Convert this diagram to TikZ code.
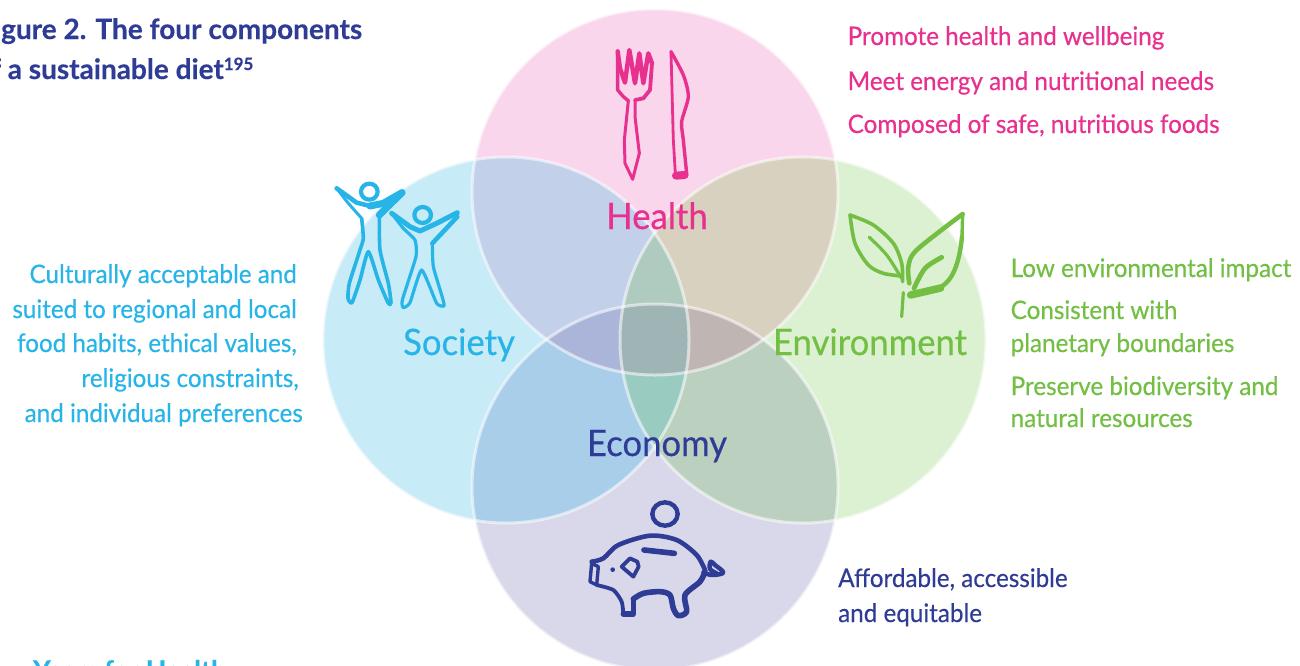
\documentclass[tikz,border=0pt]{standalone}
\usepackage{fontspec}
\setmainfont{Lato}
\newfontfamily\bodyf[FakeBold=.4,FakeStretch=.95]{Lato}
\newfontfamily\titlef[BoldFeatures={FakeBold=.3}]{Lato}
\definecolor{hc}{HTML}{E8308F}
\definecolor{sc}{HTML}{27B5E8}
\definecolor{ec}{HTML}{72BF44}
\definecolor{ac}{HTML}{2F3C96}
\definecolor{hf}{HTML}{FAD6EC}
\definecolor{sf}{HTML}{C8EBF8}
\definecolor{ef}{HTML}{DCF0D2}
\definecolor{af}{HTML}{D8D8EA}
\def\cH{(655,192) circle (183)}
\def\cS{(506,340) circle (183)}
\def\cE{(803,340) circle (183)}
\def\cA{(655,487) circle (183)}
\tikzset{
  rim/.style={draw=white,draw opacity=.55,line width=3pt},
  ln/.style={anchor=base west,inner sep=0pt,font=\fontsize{25.5}{30}\bodyf},
  lr/.style={anchor=base east,inner sep=0pt,font=\fontsize{25.5}{30}\bodyf},
  big/.style={anchor=base,inner sep=0pt,font=\fontsize{36.5}{40}\bodyf},
  ttl/.style={anchor=base west,inner sep=0pt,text=ac,font=\fontsize{28}{30}\titlef\bfseries},
  icon/.style={line cap=round,line join=round,fill=none},
}
\begin{document}
\begin{tikzpicture}[x=1pt,y=-1pt]
\useasboundingbox (0,0) rectangle (1300,665);
\fill[white] (0,0) rectangle (1300,665);
\fill[hf] \cH;
\fill[sf] \cS;
\fill[ef] \cE;
\fill[af] \cA;
% two-circle overlaps
\begin{scope}\clip \cH; \fill[fill={rgb,255:red,195;green,208;blue,234}] \cS; \fill[fill={rgb,255:red,216;green,209;blue,192}] \cE;\end{scope}
\begin{scope}\clip \cA; \fill[fill={rgb,255:red,169;green,206;blue,233}] \cS; \fill[fill={rgb,255:red,188;green,208;blue,191}] \cE;\end{scope}
% three-circle overlaps
\begin{scope}\clip \cS; \clip \cE; \fill[fill={rgb,255:red,175;green,203;blue,191}] (500,150) rectangle (810,340); \fill[fill={rgb,255:red,154;green,203;blue,192}] (500,340) rectangle (810,520);\end{scope}
\begin{scope}\clip \cH; \clip \cA; \fill[fill={rgb,255:red,171;green,181;blue,218}] \cS; \fill[fill={rgb,255:red,191;green,182;blue,179}] \cE;
\begin{scope}\clip \cS; \fill[fill={rgb,255:red,158;green,180;blue,181}] \cE;\end{scope}\end{scope}
\draw[rim] \cH;
\draw[rim] \cS;
\draw[rim] \cE;
\draw[rim] \cA;

% people
\begin{scope}[shift={(320,170)},x=.3333pt,y=-.3333pt,icon,draw=sc,line width=3.2pt]
\draw[line width=4.2pt] (148,65) ellipse (25 and 24);
\draw[line width=3pt] (50,55)--(85,100)--(125,145);
\draw[line width=3.6pt] plot[smooth,tension=.35] coordinates {(125,145)(130,205)(120,240)(88,340)(84,385)(96,398)(120,330)(145,245)(175,330)(205,400)(213,398)(205,340)(180,240)(178,135)};
\draw[line width=7pt] (178,135)--(246,68);
\draw[line width=7pt] (246,68)--(190,100)--(150,108);
\draw[line width=4.6pt] (150,108)--(110,98)--(50,55);
\draw[line width=4.2pt] (308,135) ellipse (25 and 24);
\draw[line width=3.2pt] plot[smooth,tension=.3] coordinates {(215,130)(250,175)(285,210)(288,260)(247,390)(250,413)(270,398)(305,300)(350,400)(372,408)(368,385)(340,290)(337,220)};
\draw[line width=4.6pt] (337,220)--(412,140);
\draw[line width=5pt] (412,128)--(350,160)--(300,183)--(270,170)--(215,130);
\end{scope}

% fork and knife
\begin{scope}[shift={(590,40)},x=.3333pt,y=-.3333pt,icon,draw=hc,line width=3pt]
\draw[line width=4.4pt] (83,34)--(90,85)--(105,128)--(118,30)--(135,130)--(148,40)--(160,130)--(175,40)--(186,70);
\draw[line width=3.4pt] (83,34)--(83,150)--(100,170)--(115,182);
\draw (115,182)--(103,300)--(105,370)--(128,418)--(148,340)--(135,230)--(135,180);
\draw[line width=3.8pt] (135,180)--(160,175)--(180,150)--(186,70);
\draw[line width=3.4pt] plot[smooth,tension=.45] coordinates {(243,35)(280,105)(295,170)(275,245)(280,300)(290,400)};
\draw[line width=2.8pt] (243,35)--(250,300)--(256,400);
\draw[line width=8pt] (258,407)--(284,405);
\end{scope}

% plant
\begin{scope}[shift={(840,200)},x=.3333pt,y=-.3333pt,icon,draw=ec,line width=3.6pt]
\draw plot[smooth,tension=.5] coordinates {(30,45)(100,75)(160,130)(185,190)(188,245)};
\draw plot[smooth,tension=.5] coordinates {(30,45)(45,130)(85,195)(130,220)(185,228)};
\draw[line width=3.2pt] plot[smooth,tension=.5] coordinates {(88,112)(140,165)(185,235)};
\draw[line width=3.2pt] (190,278)--(185,350);
\draw[line width=4.6pt] plot[smooth,tension=.5] coordinates {(368,42)(230,150)(205,200)(208,250)};
\draw[line width=3.4pt] (368,42)--(366,110);
\draw[line width=4.4pt] (366,110) .. controls (360,170) and (345,240) .. (300,262);
\draw[line width=7.5pt] (302,264)--(212,285);
\draw[line width=4.8pt] plot[smooth,tension=.5] coordinates {(305,172)(255,205)(222,265)};
\end{scope}

% piggy bank
\begin{scope}[shift={(580,495)},x=.3333pt,y=-.3333pt,icon,draw=ac,line width=4pt]
\draw[line width=4.4pt] (255,57) ellipse (38 and 35);
\draw[line width=5.6pt] (192,165)--(283,175);
\draw[line width=4.6pt] plot[smooth,tension=.5] coordinates {(35,200)(70,190)(115,150)(210,122)(290,135)(350,180)(375,225)};
\draw[line width=3.8pt] (125,215)--(150,190)--(172,200)--(176,215)--(160,245)--cycle;
\fill[ac,draw=none] (98,224) circle (7);
\draw[line width=3.4pt] (35,205)--(30,260)--(50,270)--(55,215)--cycle;
\draw[line width=3.8pt] plot[smooth,tension=.4] coordinates {(50,270)(100,285)(125,320)(130,357)};
\draw[line width=5.4pt] (130,357)--(160,357)--(160,312);
\draw[line width=5.6pt] plot[smooth,tension=.5] coordinates {(160,312)(190,295)(240,290)(270,300)(280,340)(295,362)(320,350)(315,300)(360,260)(375,230)};
\draw[line width=4.4pt] plot[smooth,tension=.6] coordinates {(370,232)(395,240)(430,233)(405,210)(392,200)(390,222)(410,235)};
\end{scope}

% title
\node[ttl] (t1) at (-22,39) {Figure 2. The four components};
\node[ttl] (t2) at (-25,79) {of a sustainable diet\raisebox{9pt}{\fontsize{17}{17}\selectfont 195}};

% circle names
\node[big,text=hc] (nh) at (657,229) {Health};
\node[big,text=sc] (ns) at (459,355) {Society};
\node[big,text=ec] (ne) at (870,355) {Environment};
\node[big,text=ac] (na) at (657,456) {Economy};

% health list
\node[ln,text=hc] (h1) at (847.5,45) {Promote health and wellbeing};
\node[ln,text=hc] (h2) at (847.5,90) {Meet energy and nutritional needs};
\node[ln,text=hc] (h3) at (847.5,133) {Composed of safe, nutritious foods};

% society list
\node[lr,text=sc] (s1) at (297,283) {Culturally acceptable and};
\node[lr,text=sc] (s2) at (297,318) {suited to regional and local};
\node[lr,text=sc] (s3) at (297,352) {food habits, ethical values,};
\node[lr,text=sc] (s4) at (299,387) {religious constraints,};
\node[lr,text=sc] (s5) at (303,422) {and individual preferences};

% environment list
\node[ln,text=ec] (e1) at (1010.5,277) {Low environmental impact};
\node[ln,text=ec] (e2) at (1010.5,319) {Consistent with};
\node[ln,text=ec] (e3) at (1010.5,352) {planetary boundaries};
\node[ln,text=ec] (e4) at (1010.5,395) {Preserve biodiversity and};
\node[ln,text=ec] (e5) at (1010.5,427) {natural resources};

% economy list
\node[ln,text=ac] (a1) at (838,587) {Affordable, accessible};
\node[ln,text=ac] (a2) at (838,622) {and equitable};

% footer
\node[anchor=base west,inner sep=0pt,text=sc,font=\fontsize{27}{30}\titlef\bfseries] (f) at (33,680) {Years for Health};
\end{tikzpicture}
\end{document}
